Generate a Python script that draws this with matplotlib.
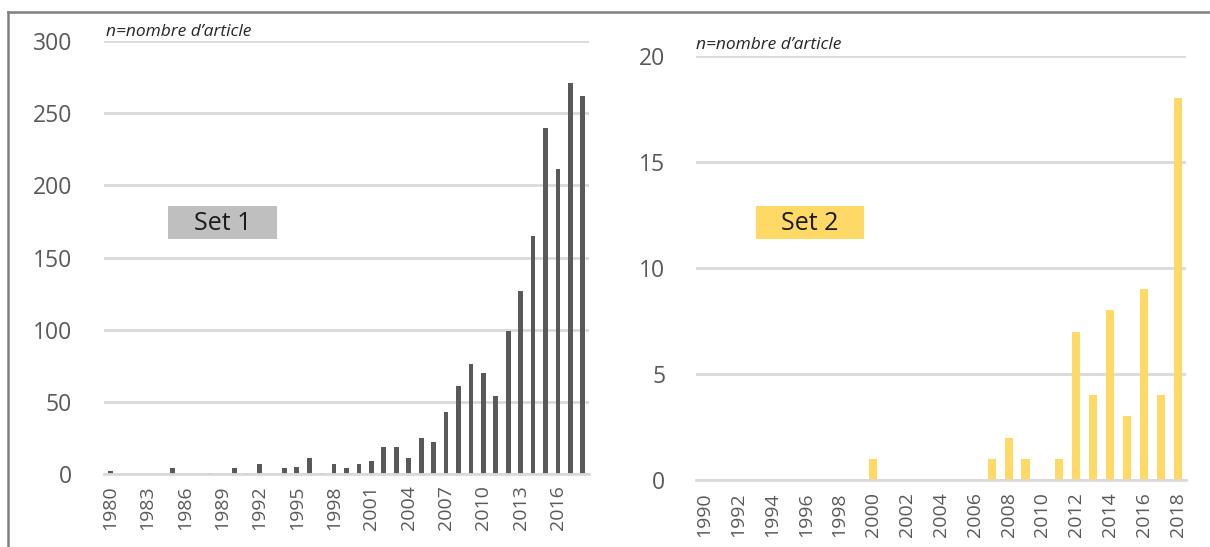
import matplotlib
matplotlib.use("Agg")
import matplotlib.pyplot as plt
from matplotlib.patches import Rectangle
from matplotlib.lines import Line2D

plt.rcParams['font.family'] = ['Open Sans', 'DejaVu Sans']

# Set 1 : nombre d'articles par an, 1980-2018
years1 = list(range(1980, 2019))
counts1 = [2, 0, 0, 0, 0, 4, 0, 0, 1, 0,
           4, 1, 7, 0, 4, 5, 11, 1, 7, 4,
           7, 9, 19, 19, 11, 25, 22, 43, 61, 76,
           70, 54, 99, 127, 165, 240, 211, 271, 262]

# Set 2 : nombre d'articles par an, 1990-2018
years2 = list(range(1990, 2019))
counts2 = [0, 0, 0, 0, 0, 0, 0, 0, 0, 0,
           1, 0, 0, 0, 0, 0, 0, 1, 2, 1,
           0, 1, 7, 4, 8, 3, 9, 4, 18]

note = "n=nombre d\u2019article"
grey_bar = "#595959"
yellow_bar = "#FFD966"
grid_col = "#D9D9D9"
text_col = "#595959"

fig = plt.figure(figsize=(12.1, 5.47), dpi=100)


def style_axes(ax, years, step, ymax, ystep, ypad, xpad):
    ax.set_xlim(-0.5, len(years) - 0.5)
    ax.set_ylim(0, ymax)
    ax.set_yticks(range(0, ymax + 1, ystep))
    ax.set_xticks(range(0, len(years), step))
    ax.set_xticklabels([str(y) for y in years[::step]], rotation=90)
    for s in ["top", "right", "left"]:
        ax.spines[s].set_visible(False)
    ax.spines["bottom"].set_color(grid_col)
    ax.spines["bottom"].set_linewidth(2)
    ax.yaxis.grid(True, color=grid_col, linewidth=2)
    ax.set_axisbelow(True)
    ax.tick_params(axis="y", length=0, pad=ypad, labelsize=16.5, labelcolor=text_col)
    ax.tick_params(axis="x", length=0, pad=xpad, labelsize=14, labelcolor=text_col)


# left chart
ax1 = fig.add_axes([0.0860, 0.1335, 0.4008, 0.7915])
ax1.bar(range(len(years1)), counts1, width=0.38, color=grey_bar)
style_axes(ax1, years1, 3, 300, 50, 23, 8)

# right chart
ax2 = fig.add_axes([0.5752, 0.1225, 0.4050, 0.7751])
ax2.bar(range(len(years2)), counts2, width=0.48, color=yellow_bar)
style_axes(ax2, years2, 2, 20, 5, 22, 9)

# notes
fig.text(106 / 1210, 1 - 32 / 547, note, style="italic", fontsize=12.5,
         color="#262626", va="center", ha="left")
fig.text(696 / 1210, 1 - 45 / 547, note, style="italic", fontsize=12.5,
         color="#262626", va="center", ha="left")

# set labels
for x0, x1, col, label in [(168, 277, "#BFBFBF", "Set 1"), (756, 864, yellow_bar, "Set 2")]:
    fig.patches.append(Rectangle((x0 / 1210, 1 - 239 / 547), (x1 - x0) / 1210, 33 / 547,
                                 transform=fig.transFigure, facecolor=col,
                                 edgecolor="none", zorder=3))
    fig.text((x0 + x1) / 2 / 1210, 1 - 223 / 547, label, fontsize=18,
             color="#1a1a1a", ha="center", va="center", zorder=4)

# cadre
fig.lines.append(Line2D([8 / 1210, 1], [1 - 12 / 547, 1 - 12 / 547],
                        transform=fig.transFigure, color="#808080", linewidth=1.8))
fig.lines.append(Line2D([8 / 1210, 8 / 1210], [0, 1 - 12 / 547],
                        transform=fig.transFigure, color="#808080", linewidth=1.8))

fig.savefig("out.png", dpi=100)
